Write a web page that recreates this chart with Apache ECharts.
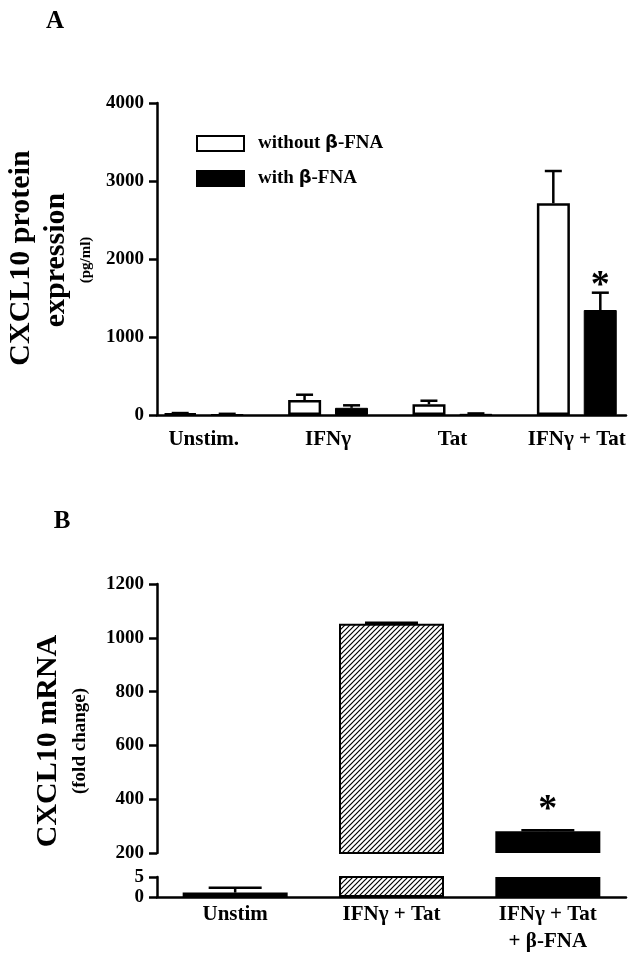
<!DOCTYPE html>
<html>
<head>
<meta charset="utf-8">
<script src="https://cdn.jsdelivr.net/npm/echarts@6/dist/echarts.min.js"></script>
<style>
  html, body { margin: 0; padding: 0; background: #fff; }
  #chart { width: 639px; height: 961px; }
</style>
</head>
<body>
<div id="chart"></div>
<script>
// panel A - protein
var catsA = ['Unstim.', 'IFNγ', 'Tat', 'IFNγ + Tat'];
var withoutMean = [20, 192, 137, 2714];
var withoutErr = [5, 68, 46, 414];
var withMean = [12, 92, 15, 1346];
var withErr = [3, 32, 5, 222];
var withSig = [0, 0, 0, 1];
var ticksA = [0, 1000, 2000, 3000, 4000];

// panel B - mRNA (broken axis)
var catsB = ['Unstim', 'IFNγ + Tat', 'IFNγ + Tat\n+ β-FNA'];
var mrnaMean = [1.1, 1052, 281];
var mrnaErr = [1.2, 4, 4];
var mrnaSig = [0, 0, 1];
var ticksBUpper = [200, 400, 600, 800, 1000, 1200];
var ticksBLower = [0, 5];

var FONT = 'Liberation Serif';

// diagonal hatch
function hatch() {
  var c = document.createElement('canvas');
  c.width = 5; c.height = 5;
  var g = c.getContext('2d');
  g.fillStyle = '#fff';
  g.fillRect(0, 0, 5, 5);
  g.strokeStyle = '#000';
  g.lineWidth = 1.2;
  g.beginPath();
  g.moveTo(-1, 6); g.lineTo(6, -1);
  g.moveTo(-1, 1); g.lineTo(1, -1);
  g.moveTo(4, 6); g.lineTo(6, 4);
  g.stroke();
  return c;
}

var barStyleB = [
  { color: '#fff', borderColor: '#000', borderWidth: 2.5 },
  { color: { image: hatch(), repeat: 'repeat' }, borderColor: '#000', borderWidth: 2 },
  { color: '#000', borderColor: '#000', borderWidth: 0 }
];

function errBars(offset, capW, lw, starGap) {
  return function (params, api) {
    var base = api.coord([api.value(0), api.value(1)]);
    var top = api.coord([api.value(0), api.value(1) + api.value(2)]);
    var x = base[0] + offset;
    var kids = [
      { type: 'line', shape: { x1: x, y1: base[1], x2: x, y2: top[1] }, style: { stroke: '#000', lineWidth: lw } },
      { type: 'line', shape: { x1: x - capW / 2, y1: top[1], x2: x + capW / 2, y2: top[1] }, style: { stroke: '#000', lineWidth: lw } }
    ];
    if (api.value(3)) {
      kids.push({ type: 'text', x: x, y: top[1] - starGap, style: {
        text: '*', fill: '#000', fontSize: 38, fontFamily: FONT, fontWeight: 'bold',
        align: 'center', verticalAlign: 'middle'
      } });
    }
    return { type: 'group', children: kids };
  };
}

function errData(mean, err, sig, keep) {
  var out = [];
  for (var i = 0; i < mean.length; i++) {
    if (keep(mean[i])) out.push([i, mean[i], err[i], sig[i]]);
  }
  return out;
}

var axisLine = { show: true, lineStyle: { color: '#000', width: 2.5 } };
var axisTick = { show: true, inside: false, length: 8, lineStyle: { color: '#000', width: 2.5 } };
var tickLabel = { color: '#000', fontFamily: FONT, fontWeight: 'bold', fontSize: 19, margin: 13,
  formatter: function (v) { return String(v); } };
var catLabel = { color: '#000', fontFamily: FONT, fontWeight: 'bold', fontSize: 21, lineHeight: 27, interval: 0 };

var option = {
  animation: false,
  backgroundColor: '#fff',
  grid: [
    { left: 157, right: 13, top: 103, height: 312 },      // A axes
    { left: 141.5, width: 500, top: 103, height: 312 },   // A bars
    { left: 157, right: 13, top: 584, height: 269 },      // B upper
    { left: 157, right: 13, top: 877, height: 20 }        // B lower
  ],
  xAxis: [
    { gridIndex: 0, type: 'category', data: catsA, axisLine: axisLine, axisTick: { show: false }, axisLabel: { show: false } },
    { gridIndex: 1, type: 'category', data: catsA, axisLine: { show: false }, axisTick: { show: false },
      axisLabel: Object.assign({}, catLabel, { margin: 11 }) },
    { gridIndex: 2, type: 'category', data: catsB, show: false },
    { gridIndex: 3, type: 'category', data: catsB, axisLine: axisLine, axisTick: { show: false },
      axisLabel: Object.assign({}, catLabel, { margin: 4 }) }
  ],
  yAxis: [
    { gridIndex: 0, type: 'value', min: ticksA[0], max: ticksA[ticksA.length - 1], interval: 1000,
      axisLine: axisLine, axisTick: axisTick, axisLabel: tickLabel, splitLine: { show: false } },
    { gridIndex: 1, type: 'value', min: ticksA[0], max: ticksA[ticksA.length - 1], show: false, splitLine: { show: false } },
    { gridIndex: 2, type: 'value', min: ticksBUpper[0], max: ticksBUpper[ticksBUpper.length - 1], interval: 200,
      axisLine: axisLine, axisTick: axisTick, axisLabel: tickLabel, splitLine: { show: false } },
    { gridIndex: 3, type: 'value', min: ticksBLower[0], max: ticksBLower[1], interval: 5,
      axisLine: axisLine, axisTick: axisTick, axisLabel: tickLabel, splitLine: { show: false } }
  ],
  legend: {
    orient: 'vertical', left: 191, top: 129, itemWidth: 47, itemHeight: 15, itemGap: 16, icon: 'rect',
    data: ['without β-FNA', 'with β-FNA'],
    formatter: function (n) { return n.replace('β', '{b|β}'); },
    textStyle: {
      color: '#000', fontFamily: FONT, fontWeight: 'bold', fontSize: 19, padding: [0, 0, 0, 9],
      rich: { b: { fontFamily: 'DejaVu Sans', fontWeight: 'bold', fontSize: 18, color: '#000' } }
    }
  },
  graphic: [
    { type: 'text', x: 55, y: 22, style: { text: 'A', fontFamily: FONT, fontWeight: 'bold', fontSize: 25, fill: '#000', align: 'center', verticalAlign: 'middle' } },
    { type: 'text', x: 62, y: 522, style: { text: 'B', fontFamily: FONT, fontWeight: 'bold', fontSize: 25, fill: '#000', align: 'center', verticalAlign: 'middle' } },
    { type: 'text', x: 21, y: 258, rotation: Math.PI / 2, style: { text: 'CXCL10 protein', fontFamily: FONT, fontWeight: 'bold', fontSize: 30, fill: '#000', align: 'center', verticalAlign: 'middle' } },
    { type: 'text', x: 56, y: 260, rotation: Math.PI / 2, style: { text: 'expression', fontFamily: FONT, fontWeight: 'bold', fontSize: 30, fill: '#000', align: 'center', verticalAlign: 'middle' } },
    { type: 'text', x: 86, y: 260, rotation: Math.PI / 2, style: { text: '(pg/ml)', fontFamily: FONT, fontWeight: 'bold', fontSize: 15, fill: '#000', align: 'center', verticalAlign: 'middle' } },
    { type: 'text', x: 48, y: 741, rotation: Math.PI / 2, style: { text: 'CXCL10 mRNA', fontFamily: FONT, fontWeight: 'bold', fontSize: 30, fill: '#000', align: 'center', verticalAlign: 'middle' } },
    { type: 'text', x: 80, y: 741, rotation: Math.PI / 2, style: { text: '(fold change)', fontFamily: FONT, fontWeight: 'bold', fontSize: 19, fill: '#000', align: 'center', verticalAlign: 'middle' } }
  ],
  series: [
    { name: 'without β-FNA', type: 'bar', xAxisIndex: 1, yAxisIndex: 1, data: withoutMean,
      barWidth: 33, barGap: '42%', itemStyle: { color: '#fff', borderColor: '#000', borderWidth: 2.5 } },
    { name: 'with β-FNA', type: 'bar', xAxisIndex: 1, yAxisIndex: 1, data: withMean,
      barWidth: 33, barGap: '42%', itemStyle: { color: '#000', borderColor: '#000', borderWidth: 1 } },
    { type: 'custom', xAxisIndex: 1, yAxisIndex: 1, renderItem: errBars(-23.5, 17, 2.5, 7),
      data: errData(withoutMean, withoutErr, [0, 0, 0, 0], function () { return true; }) },
    { type: 'custom', xAxisIndex: 1, yAxisIndex: 1, renderItem: errBars(23.5, 17, 2.5, 7),
      data: errData(withMean, withErr, withSig, function () { return true; }) },

    { name: 'mRNA upper', type: 'bar', xAxisIndex: 2, yAxisIndex: 2, barWidth: 105, clip: true,
      data: mrnaMean.map(function (v, i) { return { value: v >= 200 ? v : null, itemStyle: barStyleB[i] }; }) },
    { name: 'mRNA lower', type: 'bar', xAxisIndex: 3, yAxisIndex: 3, barWidth: 105, clip: true,
      data: mrnaMean.map(function (v, i) { return { value: v, itemStyle: barStyleB[i] }; }) },
    { type: 'custom', xAxisIndex: 2, yAxisIndex: 2, renderItem: errBars(0, 53, 2.5, 20),
      data: errData(mrnaMean, mrnaErr, mrnaSig, function (v) { return v >= 200; }) },
    { type: 'custom', xAxisIndex: 3, yAxisIndex: 3, renderItem: errBars(0, 53, 2.5, 20),
      data: errData(mrnaMean, mrnaErr, mrnaSig, function (v) { return v <= 5; }) }
  ]
};

var myChart = echarts.init(document.getElementById('chart'));
myChart.setOption(option);
</script>
</body>
</html>
